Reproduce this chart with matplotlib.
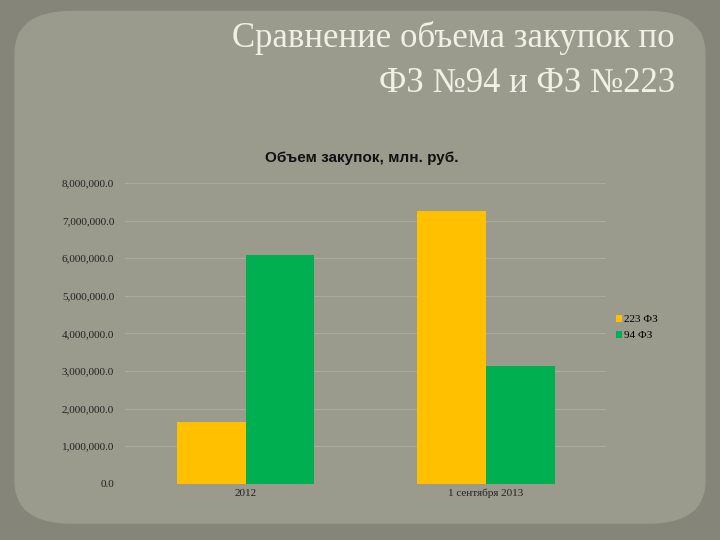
import numpy as np
import matplotlib
matplotlib.use('Agg')
import matplotlib.pyplot as plt
from matplotlib.patches import FancyBboxPatch
from matplotlib.ticker import FuncFormatter

# Data
categories = ['2012', '1 сентября 2013']
fz223 = [1650000, 7260000]
fz94 = [6090000, 3140000]
series_names = ['223 ФЗ', '94 ФЗ']

fig = plt.figure(figsize=(7.2, 5.4), dpi=100)
fig.patch.set_facecolor('#85857a')

# inner slide panel, drawn in a background axes
bg = fig.add_axes([0, 0, 1, 1], zorder=-10)
bg.set_axis_off()
bg.set_xlim(0, 1)
bg.set_ylim(0, 1)
bg.add_patch(FancyBboxPatch((0.02, 0.03), 0.96, 0.95, boxstyle='round,pad=0,rounding_size=0.08',
                            facecolor='#9a9a8d', edgecolor='none'))

fig.text(0.937, 0.93, 'Сравнение объема закупок по', ha='right', va='center',
         fontsize=25, color='#f0f0e6', family='Liberation Serif')
fig.text(0.937, 0.845, 'ФЗ №94 и ФЗ №223', ha='right', va='center',
         fontsize=25, color='#f0f0e6', family='Liberation Serif')

ax = fig.add_axes([0.174, 0.104, 0.668, 0.557])
ax.set_facecolor('none')
x = np.arange(len(categories))
w = 0.286
ax.bar(x - w / 2, fz223, w, color='#ffc000', label=series_names[0], zorder=3)
ax.bar(x + w / 2, fz94, w, color='#00b050', label=series_names[1], zorder=3)

ax.set_xlim(-0.5, 1.5)
ax.set_ylim(0, 8000000)
ax.set_yticks(np.arange(0, 8000001, 1000000))
ax.yaxis.set_major_formatter(FuncFormatter(lambda v, p: f'{v:,.1f}'))
ax.set_xticks(x)
ax.set_xticklabels(categories)
ax.grid(axis='y', color='#aaaa9e', linewidth=0.8, zorder=0)
for s in ax.spines.values():
    s.set_visible(False)
ax.tick_params(length=0, labelsize=8, colors='#222222')
for lab in ax.get_xticklabels() + ax.get_yticklabels():
    lab.set_family('Liberation Serif')
ax.tick_params(axis='y', pad=8)

fig.text(0.503, 0.707, 'Объем закупок, млн. руб.', ha='center', va='center',
         fontsize=11, fontweight='bold', color='#111111', family='Liberation Sans')

ax.legend(loc='center left', bbox_to_anchor=(1.0, 0.52), frameon=False,
          handlelength=0.5, handleheight=0.6, handletextpad=0.2,
          labelspacing=0.6, prop={'family': 'Liberation Serif', 'size': 8})

fig.savefig('out.png', dpi=100, facecolor=fig.get_facecolor())
